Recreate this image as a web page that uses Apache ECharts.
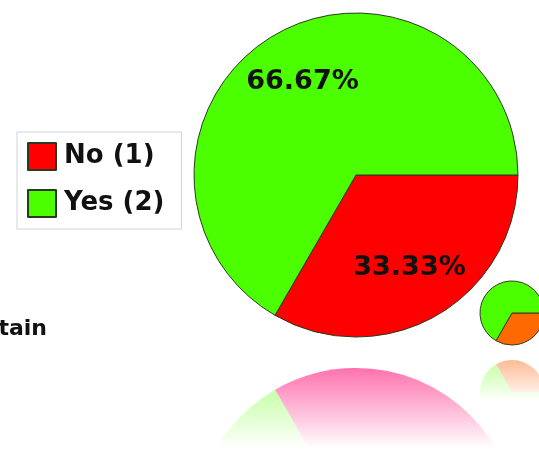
<!DOCTYPE html>
<html lang="en">
<head>
    <meta charset="UTF-8">
    <title>Pie</title>
    <style type="text/css">
        * { margin: 0; padding: 0; }
        html, body { width: 100%; height: 100%; background: #fff; }
        #main { width: 539px; height: 453px; }
    </style>
</head>
<body>
<div id="main"></div>
<script src="https://cdn.jsdelivr.net/npm/echarts@6/dist/echarts.min.js"></script>
<script>
    var myChart = echarts.init(document.getElementById('main'));

    const categories = ['No', 'Yes'];
    const counts = [1, 2];
    const smallCounts = [1, 2];

    const mainColors = ['#ff0000', '#4cff00'];
    const smallColors = ['#ff6a00', '#4cff00'];
    const font = 'DejaVu Sans';

    // reflection fill: fades to white further down
    function fade(top, bottom, rgb, alpha) {
        return new echarts.graphic.LinearGradient(0, top, 0, bottom, [
            { offset: 0, color: 'rgba(' + rgb + ',' + alpha + ')' },
            { offset: 1, color: 'rgba(' + rgb + ',0)' }
        ], true);
    }

    const mainData = categories.map((c, i) => ({
        name: c, value: counts[i],
        itemStyle: { color: mainColors[i] }
    }));
    const labelData = categories.map((c, i) => ({ name: c, value: counts[i] }));
    const reflData = categories.map((c, i) => ({
        name: c, value: counts[i],
        itemStyle: { color: i === 0 ? fade(366, 448, '255,110,172', 1) : fade(366, 448, '150,255,90', 0.75) }
    }));
    const smallData = categories.map((c, i) => ({
        name: c, value: smallCounts[i],
        itemStyle: { color: smallColors[i] }
    }));
    const smallReflData = categories.map((c, i) => ({
        name: c, value: smallCounts[i],
        itemStyle: { color: i === 0 ? fade(358, 402, '255,160,110', 0.75) : fade(358, 402, '150,255,90', 0.6) }
    }));

    const option = {
        backgroundColor: '#fff',
        animation: false,
        legend: {
            data: categories,
            orient: 'vertical',
            left: 17,
            top: 132,
            padding: [10, 17, 11, 10],
            itemWidth: 28,
            itemHeight: 27,
            itemGap: 18,
            icon: 'rect',
            borderColor: '#cfd4d8',
            borderWidth: 1,
            selectedMode: false,
            formatter: name => name + ' (' + counts[categories.indexOf(name)] + ')',
            textStyle: { fontFamily: font, fontWeight: 'bold', fontSize: 26, color: '#111', padding: [0, 0, 0, 3] }
        },
        graphic: [{
            type: 'text',
            right: 492,
            top: 318,
            style: { text: 'tain', font: 'bold 22px "DejaVu Sans"', fill: '#111' }
        }],
        series: [
            {
                type: 'pie',
                center: [356, 175],
                radius: [0, 162],
                startAngle: 0,
                silent: true,
                label: { show: false },
                labelLine: { show: false },
                itemStyle: { borderColor: '#2a3a20', borderWidth: 1 },
                data: mainData
            },
            {
                // transparent ring that only carries the percent labels
                type: 'pie',
                center: [356, 175],
                radius: [46, 162],
                startAngle: 0,
                silent: true,
                itemStyle: { color: 'rgba(0,0,0,0)' },
                label: {
                    show: true,
                    position: 'inside',
                    formatter: p => p.percent.toFixed(2) + '%',
                    fontFamily: font,
                    fontWeight: 'bold',
                    fontSize: 27,
                    color: '#111'
                },
                percentPrecision: 2,
                data: labelData
            },
            {
                type: 'pie',
                center: [356, 530],
                radius: [0, 162],
                startAngle: 0,
                clockwise: false,
                silent: true,
                z: 1,
                label: { show: false },
                labelLine: { show: false },
                data: reflData
            },
            {
                type: 'pie',
                center: [512, 313],
                radius: [0, 32],
                startAngle: 0,
                silent: true,
                label: { show: false },
                labelLine: { show: false },
                itemStyle: { borderColor: '#3a3a20', borderWidth: 1 },
                data: smallData
            },
            {
                type: 'pie',
                center: [512, 392],
                radius: [0, 32],
                startAngle: 0,
                clockwise: false,
                silent: true,
                label: { show: false },
                labelLine: { show: false },
                data: smallReflData
            }
        ]
    };
    myChart.setOption(option);
</script>
</body>
</html>
